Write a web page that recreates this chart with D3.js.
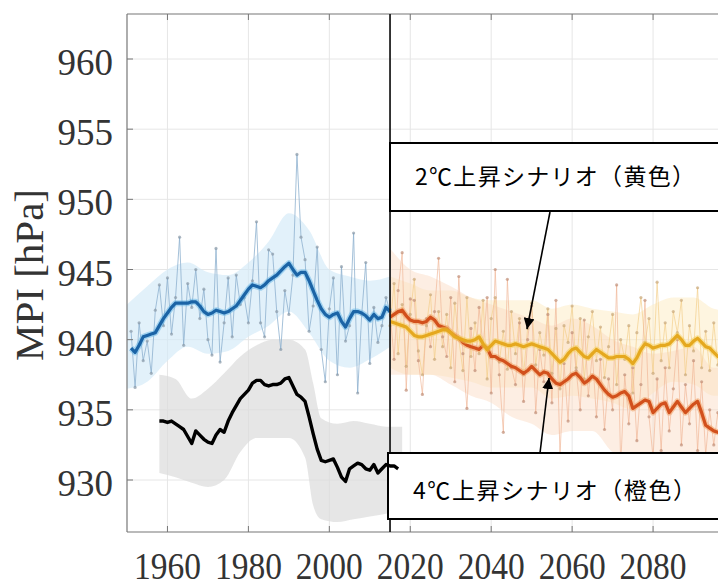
<!DOCTYPE html>
<html>
<head>
<meta charset="utf-8">
<script src="https://cdn.jsdelivr.net/npm/d3@7"></script>
<style>
  body { margin: 0; background: #fff; }
  svg { display: block; }
</style>
</head>
<body>
<div class="wrapper"></div>
<script>
// values

var histYears = d3.range(1951, 2016);
var histAnnual = [940.6, 936.6, 941.2, 938.5, 939.9, 937.6, 942.1, 943.9, 941.0, 944.4,
    940.4, 943.0, 947.3, 939.6, 944.0, 942.3, 945.0, 941.5, 943.6, 940.0,
    938.9, 946.5, 938.4, 941.2, 944.4, 940.2, 944.6, 942.5, 943.0, 941.2,
    944.2, 948.4, 941.2, 940.2, 946.4, 946.1, 942.0, 939.3, 943.5, 941.8,
    944.6, 953.2, 947.3, 945.7, 940.6, 942.4, 946.6, 939.3, 937.0, 942.2,
    944.4, 937.5, 945.2, 939.9, 941.0, 947.6, 936.2, 941.8, 945.5, 938.3,
    942.3, 939.8, 941.0, 943.0, 942.0];
var histMean = [939.4, 939.1, 939.6, 940.2, 940.3, 940.4, 940.5, 941.0, 941.5, 941.9,
    942.3, 942.6, 942.6, 942.6, 942.6, 942.7, 942.7, 942.4, 942.0, 941.8,
    941.9, 942.1, 942.0, 941.9, 942.0, 942.2, 942.4, 942.8, 943.2, 943.6,
    943.9, 943.8, 943.7, 943.9, 944.2, 944.4, 944.6, 944.9, 945.2, 945.45,
    945.0, 944.6, 944.8, 944.8, 944.2, 943.5, 942.8, 942.2, 941.8, 941.6,
    941.8, 941.9, 941.3, 940.9, 941.5, 942.0, 942.0, 941.9, 941.7, 941.4,
    941.8, 941.5, 941.6, 942.3, 942.0];
var histBandYears = [1950, 1955, 1960, 1965, 1970, 1975, 1980, 1985, 1990, 1995, 2000, 2005, 2010, 2015];
var histUpper = [942.5, 943.8, 945.0, 945.5, 944.8, 944.6, 945.5, 947.0, 949.0, 947.8, 945.0, 944.5, 944.2, 944.5];
var histLower = [936.5, 937.0, 938.5, 939.5, 939.0, 939.2, 940.2, 941.0, 942.0, 940.5, 938.5, 938.0, 938.6, 939.5];

var obsYears = d3.range(1958, 2018);
var obsMean = [934.2, 934.2, 934.1, 934.2, 934.0, 933.8, 933.6, 933.1, 932.6, 933.5,
    933.2, 932.9, 932.7, 932.6, 933.2, 933.6, 933.4, 934.2, 934.8, 935.3,
    935.8, 936.1, 936.4, 936.9, 937.1, 937.1, 936.8, 936.7, 936.8, 936.8,
    936.9, 937.2, 937.3, 936.7, 936.1, 935.9, 935.6, 934.5, 933.3, 932.2,
    931.4, 931.3, 931.4, 931.5, 930.9, 930.2, 929.9, 930.8, 931.0, 931.2,
    931.1, 930.8, 930.7, 931.1, 930.5, 930.8, 931.1, 931.0, 931.0, 930.8];
var obsBandYears = [1958, 1962, 1966, 1970, 1974, 1978, 1982, 1986, 1990, 1994, 1996, 1998, 2002, 2006, 2010, 2014, 2018];
var obsUpper = [937.5, 937.2, 935.8, 936.5, 937.6, 938.8, 939.6, 940.0, 940.0, 939.3, 936.9, 934.4, 934.0, 934.2, 934.0, 933.8, 933.8];
var obsLower = [930.5, 930.2, 929.8, 929.5, 930.0, 932.0, 933.0, 933.0, 933.0, 931.6, 928.2, 927.2, 927.0, 927.2, 927.4, 927.6, 927.9];

var futYears = d3.range(2015, 2100);
var warm4Annual = [942.0, 938.6, 943.5, 946.2, 936.4, 942.9, 942.8, 938.5, 936.1, 941.5,
    939.5, 942.0, 945.8, 940.2, 938.8, 943.0, 937.0, 944.5, 939.0, 935.1,
    940.8, 937.8, 942.3, 939.5, 943.0, 936.2, 945.0, 937.5, 933.4, 944.3,
    938.0, 936.8, 941.2, 935.6, 940.0, 942.4, 934.8, 939.3, 937.0, 941.8,
    935.5, 942.8, 931.7, 938.3, 934.2, 940.5, 937.8, 935.0, 941.4, 936.0,
    939.0, 934.5, 938.6, 933.6, 937.2, 935.0, 943.9, 931.0, 937.5, 934.0,
    938.0, 932.8, 936.8, 942.8, 934.5, 931.6, 937.2, 932.1, 938.0, 933.5,
    936.5, 940.0, 932.5, 936.8, 934.0, 938.5, 932.1, 937.0, 931.8, 935.0,
    932.5, 934.8, 931.5, 935.5, 933.0];
var warm4Mean = [941.6, 941.8, 942.0, 942.1, 941.7, 941.4, 941.3, 941.3, 941.2, 941.3,
    941.6, 941.4, 941.0, 940.9, 940.8, 940.5, 940.3, 940.1, 939.8, 939.6,
    939.5, 939.4, 939.3, 939.6, 939.4, 938.8, 938.8, 938.6, 938.5, 938.3,
    938.1, 938.0, 937.8, 937.6, 937.8, 938.1, 937.8, 937.5, 937.7, 937.6,
    937.2, 936.9, 936.8, 937.0, 937.2, 937.5, 937.6, 937.3, 936.9, 937.1,
    937.4, 937.2, 936.8, 936.4, 936.1, 935.9, 936.0, 936.2, 936.3, 936.0,
    935.1, 935.3, 935.5, 935.7, 935.6, 934.8, 935.1, 935.4, 935.5, 934.8,
    935.2, 935.6, 935.2, 934.8, 935.1, 935.4, 935.6, 934.8, 933.9, 933.7,
    933.5, 933.4, 933.5, 933.6, 933.5];
var warm2Annual = [941.0, 944.0, 939.0, 942.5, 938.1, 941.8, 944.3, 939.2, 937.5, 941.0,
    943.2, 938.6, 942.0, 939.5, 941.8, 938.0, 942.6, 940.0, 937.8, 943.0,
    938.8, 941.2, 939.0, 942.8, 937.2, 941.5, 943.0, 938.4, 940.6, 937.9,
    942.0, 939.0, 941.5, 937.5, 940.8, 942.6, 938.2, 940.5, 938.9, 942.2,
    937.6, 940.8, 936.5, 941.0, 939.8, 942.4, 938.0, 941.5, 937.2, 940.2,
    942.0, 938.5, 940.9, 937.3, 939.5, 941.8, 936.8, 940.0, 938.6, 941.0,
    936.2, 940.5, 943.0, 939.8, 941.5, 937.6, 944.1, 938.5, 941.2, 938.0,
    942.0, 940.5, 942.8, 937.5, 941.0, 939.2, 943.7, 938.0, 940.6, 937.8,
    941.2, 938.2, 940.0, 937.5, 940.5];
var warm2Mean = [941.3, 941.2, 941.1, 941.0, 940.9, 940.6, 940.3, 940.2, 940.2, 940.3,
    940.4, 940.5, 940.6, 940.7, 940.7, 940.5, 940.2, 940.1, 940.0, 939.9,
    939.9, 940.0, 940.2, 939.7, 939.3, 939.6, 939.9, 939.8, 939.7, 939.6,
    939.6, 939.7, 939.6, 939.5, 939.6, 939.7, 939.6, 939.5, 939.4, 939.3,
    939.0, 938.7, 938.4, 938.6, 939.0, 939.3, 939.4, 939.1, 938.8, 938.7,
    939.0, 939.3, 939.1, 938.9, 938.7, 938.7, 938.8, 938.8, 938.8, 938.6,
    938.3, 938.7, 939.3, 939.7, 939.6, 939.4, 939.5, 939.6, 939.6, 939.7,
    940.0, 940.3, 940.0, 939.6, 939.6, 939.9, 940.1, 939.8, 939.5, 939.4,
    939.1, 938.8, 938.9, 939.0, 939.1];
var futBandYears = [2015, 2020, 2025, 2030, 2035, 2040, 2045, 2050, 2055, 2060, 2065, 2070, 2075, 2080, 2085, 2090, 2095, 2100];
var warm4Upper = [946.5, 945.0, 944.5, 943.8, 943.0, 942.5, 942.0, 941.5, 941.0, 941.5, 941.0, 940.0, 939.5, 939.0, 939.2, 939.5, 938.0, 938.0];
var warm4Lower = [937.5, 937.5, 937.5, 936.8, 936.0, 935.5, 934.5, 934.0, 933.2, 933.5, 933.5, 932.0, 931.5, 931.0, 931.5, 931.5, 929.5, 929.5];
var warm2Upper = [944.5, 944.0, 943.5, 943.5, 943.0, 942.8, 942.8, 942.8, 942.2, 942.5, 942.2, 942.0, 941.8, 942.5, 943.0, 943.0, 942.2, 942.0];
var warm2Lower = [938.0, 937.5, 937.5, 937.3, 937.0, 936.6, 936.6, 936.6, 935.8, 936.0, 935.8, 935.5, 935.0, 936.2, 937.0, 936.8, 936.0, 936.0];

var yTicks = [930, 935, 940, 945, 950, 955, 960];
var xTicks = [1960, 1980, 2000, 2020, 2040, 2060, 2080];
var splitYear = 2015;
var label2 = "2℃上昇シナリオ（黄色）";
var label4 = "4℃上昇シナリオ（橙色）";

var svgWidth = 718;
var svgHeight = 587;
var plotLeft = 127, plotTop = 14, plotBottom = 532, plotRight = 734;

var svg = d3.select(".wrapper").append("svg")
    .attr("width", svgWidth)
    .attr("height", svgHeight);

var x = d3.scaleLinear().domain([1950, 2100]).range([plotLeft, plotRight]);
var y = d3.scaleLinear().domain([930, 960]).range([480, 59]);

svg.append("defs").append("clipPath").attr("id", "plotclip")
    .append("rect")
    .attr("x", plotLeft).attr("y", plotTop)
    .attr("width", plotRight - plotLeft).attr("height", plotBottom - plotTop);

svg.select("defs").append("marker")
    .attr("id", "arrowhead")
    .attr("viewBox", "0 0 10 10")
    .attr("refX", 10).attr("refY", 5)
    .attr("markerWidth", 11).attr("markerHeight", 11)
    .attr("markerUnits", "userSpaceOnUse")
    .attr("orient", "auto")
    .append("path")
    .attr("d", "M0,0 L10,5 L0,10 Z")
    .attr("fill", "#000");

// grid lines
var grid = svg.append("g").attr("clip-path", "url(#plotclip)");
grid.selectAll(".gx").data(xTicks).enter().append("line")
    .attr("x1", function(d) { return x(d); })
    .attr("x2", function(d) { return x(d); })
    .attr("y1", plotTop).attr("y2", plotBottom)
    .attr("stroke", "#e6e6e6").attr("stroke-width", 1);
grid.selectAll(".gy").data(yTicks).enter().append("line")
    .attr("y1", function(d) { return y(d); })
    .attr("y2", function(d) { return y(d); })
    .attr("x1", plotLeft).attr("x2", plotRight)
    .attr("stroke", "#e6e6e6").attr("stroke-width", 1);

var plot = svg.append("g").attr("clip-path", "url(#plotclip)");

function band(years, upper, lower, fill, opacity) {
    var area = d3.area()
        .x(function(d, i) { return x(years[i]); })
        .y0(function(d, i) { return y(lower[i]); })
        .y1(function(d, i) { return y(upper[i]); })
        .curve(d3.curveMonotoneX);
    plot.append("path").datum(upper)
        .attr("d", area)
        .attr("fill", fill)
        .attr("fill-opacity", opacity);
}

function series(years, values, color, width, opacity) {
    var line = d3.line()
        .x(function(d, i) { return x(years[i]); })
        .y(function(d) { return y(d); });
    return plot.append("path").datum(values)
        .attr("d", line)
        .attr("fill", "none")
        .attr("stroke", color)
        .attr("stroke-width", width)
        .attr("stroke-opacity", opacity)
        .attr("stroke-linejoin", "round");
}

function dots(years, values, color) {
    plot.append("g").selectAll("circle").data(values).enter().append("circle")
        .attr("cx", function(d, i) { return x(years[i]); })
        .attr("cy", function(d) { return y(d); })
        .attr("r", 1.6)
        .attr("fill", color)
        .attr("fill-opacity", 0.7);
}

// shaded ranges
band(obsBandYears, obsUpper, obsLower, "#dcdcdc", 0.7);
band(histBandYears, histUpper, histLower, "#d3e9f8", 0.65);
band(futBandYears, warm2Upper, warm2Lower, "#fdecc2", 0.5);
band(futBandYears, warm4Upper, warm4Lower, "#fbd9c2", 0.45);

// annual values
series(histYears, histAnnual, "#8fb2cf", 1, 0.8);
dots(histYears, histAnnual, "#8a9aa8");
series(futYears, warm2Annual, "#f2cd85", 1, 0.65);
series(futYears, warm4Annual, "#efb493", 1, 0.65);
dots(futYears, warm2Annual, "#c9a87a");
dots(futYears, warm4Annual, "#c08f78");

// running means
series(histYears, histMean, "#5fb4e6", 6, 0.5);
series(histYears, histMean, "#1b64a6", 3.2, 1);
series(futYears, warm4Mean, "#f09a5a", 6, 0.5);
series(futYears, warm4Mean, "#d2501c", 3.2, 1);
series(futYears, warm2Mean, "#f5cf55", 6, 0.5);
series(futYears, warm2Mean, "#e5a81f", 3.2, 1);

// axes frame
svg.append("line").attr("x1", plotLeft).attr("x2", plotLeft)
    .attr("y1", plotTop).attr("y2", plotBottom)
    .attr("stroke", "#777").attr("stroke-width", 1.2);
svg.append("line").attr("x1", plotLeft).attr("x2", svgWidth)
    .attr("y1", plotTop).attr("y2", plotTop)
    .attr("stroke", "#777").attr("stroke-width", 1.2);
svg.append("line").attr("x1", plotLeft).attr("x2", svgWidth)
    .attr("y1", plotBottom).attr("y2", plotBottom)
    .attr("stroke", "#777").attr("stroke-width", 1.2);

// ticks
svg.selectAll(".ty").data(yTicks).enter().append("line")
    .attr("x1", plotLeft).attr("x2", plotLeft + 6)
    .attr("y1", function(d) { return y(d); })
    .attr("y2", function(d) { return y(d); })
    .attr("stroke", "#777");
svg.selectAll(".txb").data(xTicks).enter().append("line")
    .attr("x1", function(d) { return x(d); })
    .attr("x2", function(d) { return x(d); })
    .attr("y1", plotBottom).attr("y2", plotBottom - 6)
    .attr("stroke", "#777");
svg.selectAll(".txt").data(xTicks).enter().append("line")
    .attr("x1", function(d) { return x(d); })
    .attr("x2", function(d) { return x(d); })
    .attr("y1", plotTop).attr("y2", plotTop + 6)
    .attr("stroke", "#777");

// tick labels
svg.selectAll(".ly").data(yTicks).enter().append("text")
    .attr("x", 113)
    .attr("y", function(d) { return y(d) + 16; })
    .attr("text-anchor", "end")
    .attr("font-family", "'Liberation Serif', 'Times New Roman', serif")
    .attr("font-size", 37)
    .attr("fill", "#333")
    .text(function(d) { return d; });
svg.selectAll(".lx").data(xTicks).enter().append("text")
    .attr("x", function(d) { return x(d); })
    .attr("y", 579)
    .attr("text-anchor", "middle")
    .attr("font-family", "'Liberation Serif', 'Times New Roman', serif")
    .attr("font-size", 37)
    .attr("textLength", 67)
    .attr("lengthAdjust", "spacingAndGlyphs")
    .attr("fill", "#333")
    .text(function(d) { return d; });

svg.append("text")
    .attr("transform", "translate(43,275) rotate(-90)")
    .attr("text-anchor", "middle")
    .attr("font-family", "'Liberation Serif', 'Times New Roman', serif")
    .attr("font-size", 41)
    .attr("fill", "#333")
    .text("MPI [hPa]");

// split between past and future
svg.append("line")
    .attr("x1", x(splitYear)).attr("x2", x(splitYear))
    .attr("y1", plotTop).attr("y2", plotBottom)
    .attr("stroke", "#222").attr("stroke-width", 1.8);

// annotation boxes
svg.append("rect")
    .attr("x", 390).attr("y", 143)
    .attr("width", 340).attr("height", 68)
    .attr("fill", "#fff").attr("stroke", "#000").attr("stroke-width", 2);
svg.append("text")
    .attr("x", 415).attr("y", 185)
    .attr("font-family", "'Noto Sans CJK JP', sans-serif")
    .attr("font-size", 23)
    .attr("textLength", 280)
    .attr("lengthAdjust", "spacing")
    .attr("fill", "#000")
    .text(label2);

svg.append("rect")
    .attr("x", 388).attr("y", 453)
    .attr("width", 340).attr("height", 66)
    .attr("fill", "#fff").attr("stroke", "#000").attr("stroke-width", 2);
svg.append("text")
    .attr("x", 413).attr("y", 499)
    .attr("font-family", "'Noto Sans CJK JP', sans-serif")
    .attr("font-size", 23)
    .attr("textLength", 283)
    .attr("lengthAdjust", "spacing")
    .attr("fill", "#000")
    .text(label4);

// observed running mean sits on top
var obsLine = d3.line()
    .x(function(d, i) { return x(obsYears[i]); })
    .y(function(d) { return y(d); });
svg.append("path").datum(obsMean)
    .attr("d", obsLine)
    .attr("fill", "none")
    .attr("stroke", "#000")
    .attr("stroke-width", 3.4)
    .attr("stroke-linejoin", "round");

// arrows
svg.append("line")
    .attr("x1", 550).attr("y1", 212)
    .attr("x2", 527).attr("y2", 329)
    .attr("stroke", "#000").attr("stroke-width", 1.6)
    .attr("marker-end", "url(#arrowhead)");
svg.append("line")
    .attr("x1", 540).attr("y1", 453)
    .attr("x2", 549).attr("y2", 378)
    .attr("stroke", "#000").attr("stroke-width", 1.6)
    .attr("marker-end", "url(#arrowhead)");
</script>
</body>
</html>
